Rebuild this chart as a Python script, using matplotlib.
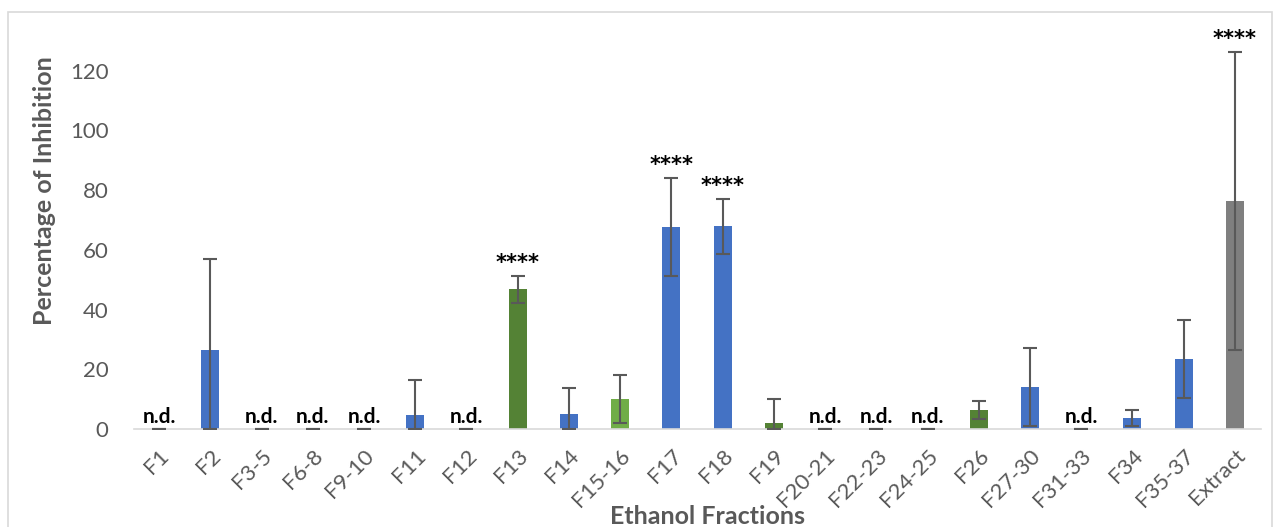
import matplotlib.pyplot as plt
import numpy as np
from matplotlib.patches import Rectangle

# data
fractions = ["F1", "F2", "F3-5", "F6-8", "F9-10", "F11", "F12", "F13", "F14", "F15-16",
             "F17", "F18", "F19", "F20-21", "F22-23", "F24-25", "F26", "F27-30", "F31-33",
             "F34", "F35-37", "Extract"]
inhibition = [0, 26.4, 0, 0, 0, 4.7, 0, 46.8, 5.0, 10.0,
              67.6, 67.9, 2.0, 0, 0, 0, 6.4, 14.0, 0,
              3.7, 23.4, 76.3]
errors = [0, 30.4, 0, 0, 0, 11.7, 0, 4.6, 8.7, 8.0,
          16.4, 9.3, 8.0, 0, 0, 0, 3.0, 13.0, 0,
          2.6, 13.0, 50.0]
groups = ["b", "b", "b", "b", "b", "b", "b", "dg", "b", "lg",
          "b", "b", "dg", "b", "b", "b", "dg", "b", "b",
          "b", "b", "gr"]
labels = ["n.d.", "", "n.d.", "n.d.", "n.d.", "", "n.d.", "****", "", "",
          "****", "****", "", "n.d.", "n.d.", "n.d.", "", "", "n.d.",
          "", "", "****"]

palette = {"b": "#4472C4", "dg": "#548235", "lg": "#70AD47", "gr": "#7F7F7F"}

plt.rcParams["font.family"] = ["Lato", "DejaVu Sans"]

fig = plt.figure(figsize=(12.8, 5.27), dpi=100)
fig.patches.append(Rectangle((8 / 1280, -0.1), 1264 / 1280, (527 - 12) / 527 + 0.1,
                             transform=fig.transFigure, fill=False,
                             edgecolor="#D9D9D9", linewidth=1.2))
ax = fig.add_axes([133.5 / 1280, (527 - 429) / 527, 1127 / 1280, (429 - 20) / 527])

x = np.arange(len(fractions))
colors = [palette[g] for g in groups]
ax.bar(x, inhibition, width=0.35, color=colors, zorder=2)

# error bars, lower part clipped at zero like the original
low = [min(e, v) for v, e in zip(inhibition, errors)]
ax.errorbar(x, inhibition, yerr=[low, errors], fmt="none", ecolor="#595959",
            elinewidth=1.5, capsize=5, capthick=1.5, zorder=3)

for i, lab in enumerate(labels):
    if lab == "n.d.":
        ax.text(x[i], 0.6, lab, ha="center", va="bottom", fontsize=15,
                fontweight="bold", color="black")
    elif lab:
        ax.text(x[i], inhibition[i] + errors[i] + 1.0, lab, ha="center", va="bottom",
                fontsize=15, fontweight="bold", color="black", family="DejaVu Sans")

ax.set_xlim(-0.5, len(fractions) - 0.5)
ax.set_ylim(0, 137)
ax.set_yticks(range(0, 121, 20))
ax.set_xticks(x)
ax.set_xticklabels(fractions, rotation=45, ha="right", rotation_mode="anchor")
ax.tick_params(axis="both", length=0, labelsize=16, colors="#595959")
ax.tick_params(axis="x", pad=12)
ax.tick_params(axis="y", pad=18)
for s in ["top", "right", "left"]:
    ax.spines[s].set_visible(False)
ax.spines["bottom"].set_color("#D9D9D9")
ax.spines["bottom"].set_linewidth(1.2)

ax.set_ylabel("Percentage of Inhibition", fontsize=18, fontweight="bold",
              color="#595959")
ax.yaxis.set_label_coords(-0.0686, 0.584)
fig.text(708 / 1280, 11 / 527, "Ethanol Fractions", ha="center", va="center",
         fontsize=18, fontweight="bold", color="#595959")

fig.savefig("out.png", dpi=100)
